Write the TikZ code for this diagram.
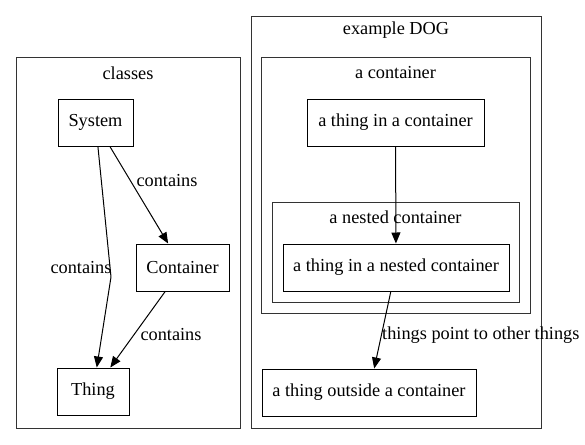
\documentclass[tikz,border=0pt]{standalone}
\usepackage{fontspec}
\setmainfont{Liberation Serif}
\usetikzlibrary{arrows.meta}
\begin{document}
\begin{tikzpicture}[x=1pt,y=-1pt,
  every node/.style={font=\fontsize{18.3}{20}\selectfont},
  box/.style={draw, line width=1pt, inner sep=0pt, minimum height=47pt},
  cluster/.style={draw, line width=0.9pt, draw=black!80, inner sep=0pt},
  lbl/.style={inner sep=0pt},
  arr/.style={line width=1pt, -{Triangle[length=11pt,width=9pt]}}]
\useasboundingbox (0,0) rectangle (585,444);
% clusters
\node[cluster, minimum width=224pt, minimum height=371pt] (classes) at (128,242.5) {};
\node[lbl] (classesl) at (128,73) {classes};
\node[cluster, minimum width=290pt, minimum height=412pt] (dog) at (396,222) {};
\node[lbl] (dogl) at (396,30) {example DOG};
\node[cluster, minimum width=269pt, minimum height=256pt] (cont) at (395.5,185) {};
\node[lbl] (contl) at (395.5,73) {a container};
\node[cluster, minimum width=247pt, minimum height=100pt] (nest) at (395.5,252) {};
\node[lbl] (nestl) at (395.5,217) {a nested container};
% nodes
\node[box, minimum width=75pt] (sys) at (95.5,122.5) {System};
\node[box, minimum width=93pt] (con) at (182.5,267.5) {Container};
\node[box, minimum width=72pt] (thing) at (93,391.5) {Thing};
\node[box, minimum width=177pt] (tic) at (395.5,122.5) {a thing in a container};
\node[box, minimum width=226pt] (tinc) at (396,267.5) {a thing in a nested container};
\node[box, minimum width=214pt] (toc) at (369,392.5) {a thing outside a container};
% edges
\coordinate (bend) at (111,277);
\draw[arr] (sys) -- (con);
\node[lbl] (l1) at (167,181) {contains};
\draw[line width=1pt] (sys) -- (bend);
\draw[arr] (bend) -- (thing);
\node[lbl] (l2) at (81,268) {contains};
\draw[arr] (con) -- (thing);
\node[lbl] (l3) at (171,335) {contains};
\draw[arr] (tic) -- (tinc);
\draw[arr] (tinc) -- (toc);
\node[lbl, anchor=west] (l4) at (382,335) {things point to other things};
\end{tikzpicture}
\end{document}
